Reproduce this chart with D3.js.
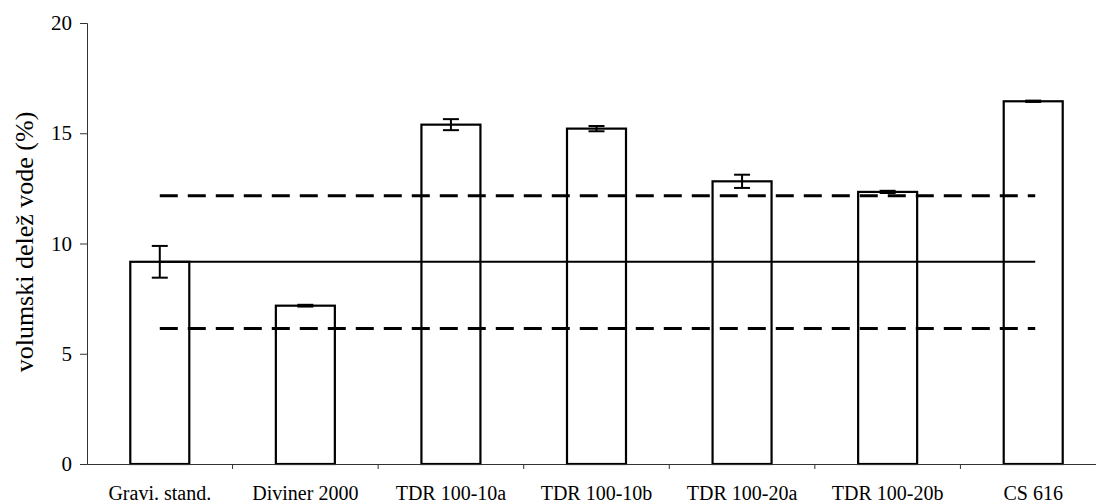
<!DOCTYPE html>
<html>
<head>
<meta charset="utf-8">
<script src="https://cdn.jsdelivr.net/npm/d3@7"></script>
<style>
  body { margin: 0; background: #fff; }
  svg { display: block; }
  text { font-family: "Liberation Serif", "Times New Roman", serif; fill: #000; }
</style>
</head>
<body>
<div id="vis"></div>
<script>
// data
let categories = ['Gravi. stand.', 'Diviner 2000', 'TDR 100-10a', 'TDR 100-10b', 'TDR 100-20a', 'TDR 100-20b', 'CS 616'];
let values = [9.17, 7.18, 15.39, 15.21, 12.82, 12.34, 16.45];
let errors = [0.72, 0.04, 0.25, 0.12, 0.3, 0.05, 0.03];
let meanLine = 9.17;
let bandLines = [12.17, 6.15];
let yTicks = [0, 5, 10, 15, 20];

let W = 1096, H = 504;
let margin = { top: 23, left: 87, bottom: 40 };

let svg = d3.select('#vis')
    .append('svg')
    .attr('width', W)
    .attr('height', H);

let x = d3.scaleBand()
    .domain(categories)
    .range([margin.left, 1106])
    .paddingInner(0)
    .paddingOuter(0);

let y = d3.scaleLinear()
    .domain([0, 20])
    .range([464, margin.top]);

let barW = 59;

// bars
svg.append('g')
    .selectAll('rect')
    .data(categories)
    .join('rect')
    .attr('x', (d) => x(d) + x.bandwidth() / 2 - barW / 2)
    .attr('y', (d, i) => y(values[i]))
    .attr('width', barW)
    .attr('height', (d, i) => y(0) - y(values[i]))
    .attr('fill', '#fff')
    .attr('stroke', '#000')
    .attr('stroke-width', 2.2);

// error bars
let err = svg.append('g')
    .attr('stroke', '#000')
    .attr('stroke-width', 2);

categories.forEach((c, i) => {
    let cx = x(c) + x.bandwidth() / 2;
    let top = y(values[i] + errors[i]);
    let bot = y(values[i] - errors[i]);
    err.append('line').attr('x1', cx).attr('x2', cx).attr('y1', top).attr('y2', bot);
    err.append('line').attr('x1', cx - 8).attr('x2', cx + 8).attr('y1', top).attr('y2', top);
    err.append('line').attr('x1', cx - 8).attr('x2', cx + 8).attr('y1', bot).attr('y2', bot);
});

// reference lines from first to last category centre
let x0 = x(categories[0]) + x.bandwidth() / 2;
let x1 = x(categories[categories.length - 1]) + x.bandwidth() / 2 + 2;

svg.append('line')
    .attr('x1', x0).attr('x2', x1)
    .attr('y1', y(meanLine)).attr('y2', y(meanLine))
    .attr('stroke', '#000')
    .attr('stroke-width', 2);

svg.selectAll('.band')
    .data(bandLines)
    .join('line')
    .attr('class', 'band')
    .attr('x1', x0).attr('x2', x1)
    .attr('y1', (d) => y(d)).attr('y2', (d) => y(d))
    .attr('stroke', '#000')
    .attr('stroke-width', 3)
    .attr('stroke-dasharray', '18,10');

// y axis
let yAxis = svg.append('g')
    .attr('transform', `translate(${margin.left},0)`)
    .call(d3.axisLeft(y).tickValues(yTicks).tickSize(7).tickPadding(8));
yAxis.selectAll('text').style('font-size', '21px');

// x axis
let xAxis = svg.append('g')
    .attr('transform', `translate(0,${y(0)})`)
    .call(d3.axisBottom(x).tickSize(0).tickPadding(22));
xAxis.selectAll('text').style('font-size', '20px');

// category boundary ticks
xAxis.selectAll('.bt')
    .data(categories.slice(1))
    .join('line')
    .attr('class', 'bt')
    .attr('x1', (d) => x(d)).attr('x2', (d) => x(d))
    .attr('y1', 0).attr('y2', 5)
    .attr('stroke', '#333');

svg.selectAll('.domain').attr('stroke', '#333');
svg.selectAll('.tick line').attr('stroke', '#333');

// y title
svg.append('text')
    .attr('transform', `translate(27,242) rotate(-90)`)
    .attr('text-anchor', 'middle')
    .attr('dominant-baseline', 'middle')
    .style('font-size', '26px')
    .text('volumski delež vode (%)');
</script>
</body>
</html>
